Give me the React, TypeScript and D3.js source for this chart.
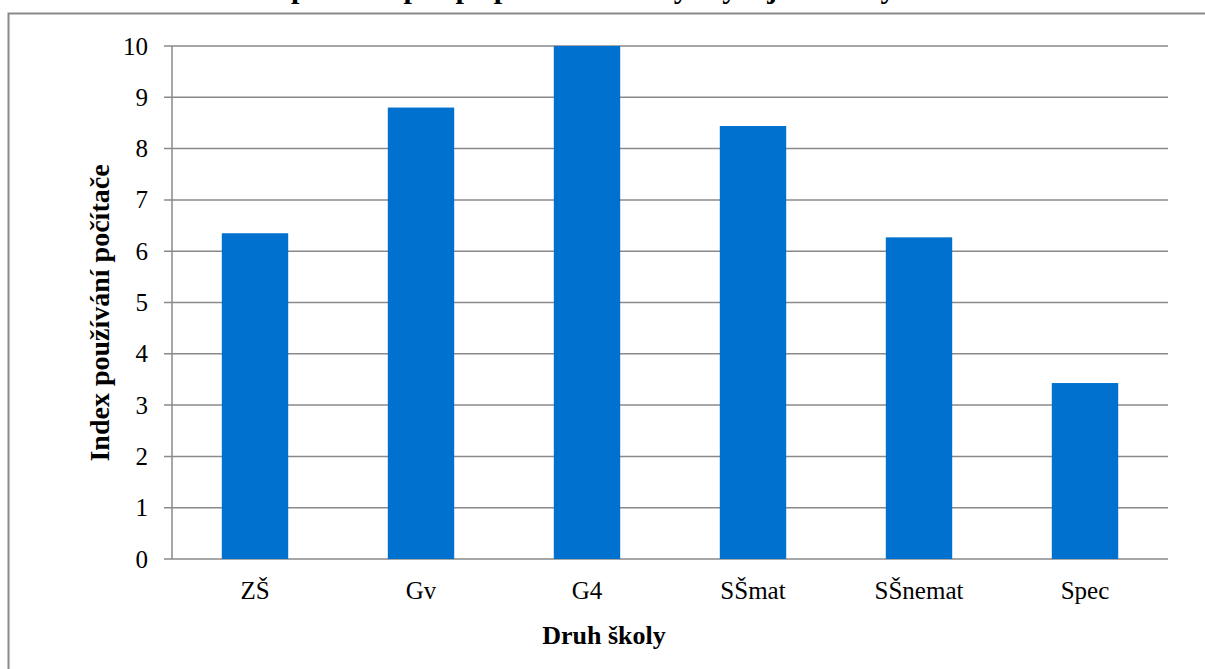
import * as d3 from 'd3';

const categories = ['ZŠ', 'Gv', 'G4', 'SŠmat', 'SŠnemat', 'Spec'];
const values = [6.35, 8.8, 10.0, 8.44, 6.27, 3.43];
const yTicks = [0, 1, 2, 3, 4, 5, 6, 7, 8, 9, 10];

const chartTitle = 'Index užívání počítače pro přípravu běžné výuky v jednotlivých druzích škol';
const xTitle = 'Druh školy';
const yTitle = 'Index používání počítače';

const W = 1205;
const H = 669;
const BAR = '#0071ce';
const GRID = '#8a8a8a';
const FONT = "'Liberation Serif', 'DejaVu Serif', serif";

export default function App() {
  const x = d3.scaleBand<string>()
    .domain(categories)
    .range([172, 1168])
    .paddingInner(0.6)
    .paddingOuter(0.3);
  const y = d3.scaleLinear().domain([0, 10]).range([559, 46]);

  const txt = { fontFamily: FONT };

  return (
    <svg
      width={W}
      height={H}
      style={{ position: 'absolute', left: 0, top: 0, background: '#fff' }}
    >
      {/* outer frame, runs past the page edges */}
      <rect x={8.5} y={13.5} width={W + 20} height={H + 20} fill="none" stroke={GRID} strokeWidth={2} />

      {/* title, mostly above the page */}
      <text x={600} y={-2.5} textAnchor="middle" fontSize={30} fontWeight="bold" fill="#000" style={txt}>
        {chartTitle}
      </text>

      {/* gridlines + y ticks */}
      {yTicks.map(t => (
        <g key={t}>
          <line x1={164} x2={1168} y1={y(t)} y2={y(t)} stroke={GRID} strokeWidth={1.5} />
          <text x={148} y={y(t)} dy="0.34em" textAnchor="end" fontSize={25} fill="#000" style={txt}>{t}</text>
        </g>
      ))}
      <line x1={172} x2={172} y1={y(10)} y2={y(0)} stroke={GRID} strokeWidth={1.5} />

      {/* bars */}
      {categories.map((c, i) => (
        <rect
          key={c}
          x={x(c)}
          width={x.bandwidth()}
          y={y(values[i])}
          height={y(0) - y(values[i])}
          fill={BAR}
        />
      ))}

      {/* category labels */}
      {categories.map(c => (
        <text key={c} x={(x(c) ?? 0) + x.bandwidth() / 2} y={599} textAnchor="middle" fontSize={25} fill="#000" style={txt}>
          {c}
        </text>
      ))}

      {/* axis titles */}
      <text x={604} y={644} textAnchor="middle" fontSize={26} fontWeight="bold" fill="#000" style={txt}>{xTitle}</text>
      <text
        transform={`translate(109, 313) rotate(-90)`}
        textAnchor="middle"
        fontSize={28}
        fontWeight="bold"
        fill="#000"
        style={txt}
      >
        {yTitle}
      </text>
    </svg>
  );
}
